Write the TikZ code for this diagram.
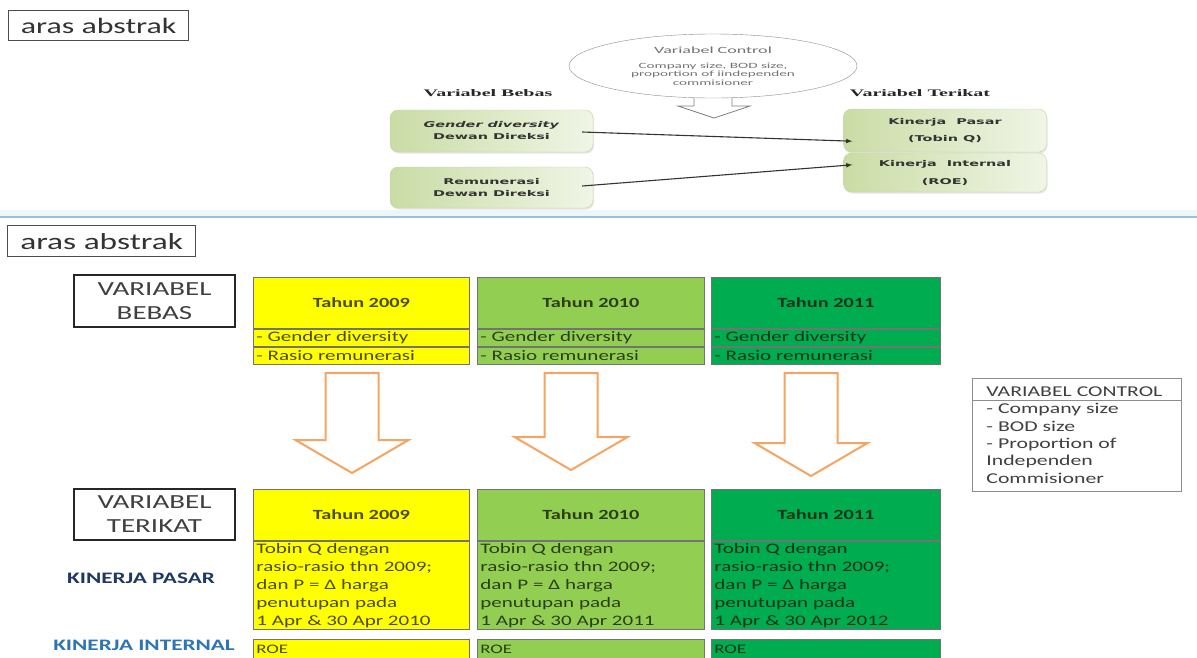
\documentclass[tikz,border=0pt]{standalone}
\usepackage{fontspec}
\setmainfont{Carlito}
\newfontfamily\calw[FakeStretch=1.45]{Carlito}
\newfontfamily\calww[FakeStretch=1.9]{Carlito}
\newfontfamily\verw[FakeStretch=1.8]{DejaVu Sans}
\newfontfamily\timw[FakeStretch=2]{Liberation Serif}
\usetikzlibrary{calc}
\usetikzlibrary{shapes.geometric}
\usetikzlibrary{shadows}
\definecolor{yel}{RGB}{255,255,0}
\definecolor{lgr}{RGB}{146,206,82}
\definecolor{dgr}{RGB}{0,172,80}
\definecolor{boxg}{RGB}{202,220,165}
\definecolor{boxl}{RGB}{240,245,230}
\definecolor{boxb}{RGB}{196,214,160}
\definecolor{arrorange}{RGB}{244,165,100}
\definecolor{sepblue}{RGB}{150,195,225}
\definecolor{navy}{RGB}{31,56,100}
\definecolor{midblue}{RGB}{46,117,182}

\begin{document}
\begin{tikzpicture}[x=1pt, y=-1pt,
  cell/.style={draw=black!55, line width=.8pt, inner sep=0pt, anchor=north west},
  rowtext/.style={inner xsep=3pt, align=left},
  topbox/.style={draw=boxb, rounded corners=8pt, left color=boxg, right color=boxl,
    drop shadow={opacity=.2, shadow xshift=1pt, shadow yshift=-1.5pt},
    minimum width=203pt, inner sep=0pt, align=center, text=black!80,
    font=\verw\bfseries\fontsize{8}{12}\selectfont},
  varbox/.style={draw=black!85, line width=1.6pt, fill=white, minimum width=161pt,
    inner sep=0pt, align=center, text=black!75, font=\calw\fontsize{20}{24}\selectfont},
  arasbox/.style={draw=black!70, line width=1.3pt, anchor=north west, inner sep=0pt, text=black!80},
  toplabel/.style={font=\timw\bfseries\fontsize{10}{12}\selectfont, text=black!85},
  blockarr/.style={draw=arrorange, line width=2pt, fill=white, line join=miter},
  conn/.style={draw=black!80, line width=1.1pt, ->, >=latex}
]
\useasboundingbox (0,0) rectangle (1197,657);
\clip (0,0) rectangle (1197,657);
\fill[white] (0,0) rectangle (1197,657);

% bagian atas
\node[arasbox, minimum width=180pt, minimum height=30pt, font=\calw\fontsize{22}{24}\selectfont] (aras1) at (8,10) {aras abstrak};
\draw[draw=black!50, fill=white, line width=.8pt] (694,90) -- (694,106) -- (678,106) -- (714,118) -- (750,106) -- (732,106) -- (732,90);
\node[ellipse, draw=black!45, fill=white, minimum width=288pt, minimum height=64pt, inner sep=0pt,
  align=center, text=black!55, font=\calww\fontsize{8}{8.5}\selectfont] (ctrl) at (713,66)
  {\fontsize{9.5}{10}\selectfont Variabel Control\\[6.5pt] Company size, BOD size,\\proportion of iindependen\\commisioner};
\node[toplabel] (bebasT) at (488,93) {Variabel Bebas};
\node[toplabel] (terikatT) at (920,93) {Variabel Terikat};
\node[topbox, minimum height=42pt] (gd) at (491.5,131) {\textit{Gender diversity}\\Dewan Direksi};
\node[topbox, minimum height=41pt] (rem) at (491.5,187.5) {Remunerasi\\Dewan Direksi};
\node[topbox, minimum height=43pt, font=\verw\bfseries\fontsize{8}{17}\selectfont] (kp) at (945,130.5) {Kinerja~~Pasar\\(Tobin Q)};
\node[topbox, minimum height=39pt, font=\verw\bfseries\fontsize{8}{18}\selectfont] (ki) at (945,172.5) {Kinerja~~Internal\\(ROE)};
\draw[conn] ($(gd.east)+(-11,1)$) -- ($(kp.south west)+(9,-11)$);
\draw[conn] ($(rem.east)+(-11,-1.5)$) -- ($(ki.north west)+(9,12)$);

% garis pemisah
\fill[sepblue!15] (0,210) rectangle (1197,216);
\draw[sepblue, line width=1.4pt] (0,217) -- (1197,217);

% bagian bawah
\node[arasbox, minimum width=188pt, minimum height=31pt, font=\calw\fontsize{23}{25}\selectfont] (aras2) at (7,225) {aras abstrak};
\node[varbox, minimum height=52pt] (vbebas) at (154.5,301) {VARIABEL\\BEBAS};
\node[varbox, minimum height=51pt] (vterikat) at (154.5,514.5) {VARIABEL\\TERIKAT};
\node[font=\calw\bfseries\fontsize{16}{18}\selectfont, text=navy] (kpasar) at (141,578) {KINERJA PASAR};
\node[font=\calw\bfseries\fontsize{16}{18}\selectfont, text=midblue] (kinternal) at (144,645) {KINERJA INTERNAL};

\foreach \xl/\w/\col/\yr/\nx [count=\i] in {253/216/yel/2009/2010, 477/227/lgr/2010/2011, 711/229/dgr/2011/2012} {
  \pgfmathsetmacro\tw{\w-6}
  % tabel variabel bebas
  \node[cell, fill=\col, text=\col!30!black, minimum width=\w pt, minimum height=51pt,
    font=\calw\bfseries\fontsize{14}{16}\selectfont] (ha\i) at (\xl,277) {Tahun \yr};
  \node[cell, rowtext, fill=\col, text=\col!30!black, minimum height=17pt, text width=\tw pt,
    font=\calw\fontsize{14.5}{17}\selectfont] (ga\i) at (ha\i.south west) {- Gender diversity};
  \node[cell, rowtext, fill=\col, text=\col!30!black, minimum height=17pt, text width=\tw pt,
    font=\calw\fontsize{14.5}{17}\selectfont] (ra\i) at (ga\i.south west) {- Rasio remunerasi};
  % tabel variabel terikat
  \node[cell, fill=\col, text=\col!30!black, minimum width=\w pt, minimum height=51pt,
    font=\calw\bfseries\fontsize{14}{16}\selectfont] (hb\i) at (\xl,489) {Tahun \yr};
  \node[cell, rowtext, fill=\col, text=\col!30!black, minimum height=88pt, text width=\tw pt,
    font=\calw\fontsize{14.5}{18}\selectfont] (tb\i) at (hb\i.south west)
    {Tobin Q dengan\\rasio-rasio thn 2009;\\dan P = Δ harga\\penutupan pada\\1 Apr \& 30 Apr \nx};
  \node[cell, rowtext, fill=\col, text=\col!30!black, minimum height=19pt, text width=\tw pt,
    font=\calw\fontsize{13}{15}\selectfont] (ro\i) at (\xl,639) {ROE};
}

% panah oranye
\foreach \cx/\dy in {352/0, 571/-3, 811/3} {
  \draw[blockarr] (\cx-26.5,373) -- (\cx-26.5,440+\dy) -- (\cx-56.5,440+\dy) -- (\cx,473+\dy)
    -- (\cx+56.5,440+\dy) -- (\cx+26.5,440+\dy) -- (\cx+26.5,373) -- cycle;
}

% variabel control
\node[draw=black!45, line width=.8pt, anchor=north west, minimum width=209pt, minimum height=113pt,
  inner xsep=14pt, inner ysep=4pt, text width=181pt, align=left, text=black!75,
  font=\calw\fontsize{15}{17.4}\selectfont] (vc) at (972,378)
  {VARIABEL CONTROL\\- Company size\\- BOD size\\- Proportion of\\Independen\\Commisioner};
\draw[black!45, line width=.8pt] ($(vc.north west)+(0,22)$) -- ($(vc.north east)+(0,22)$);
\end{tikzpicture}
\end{document}
